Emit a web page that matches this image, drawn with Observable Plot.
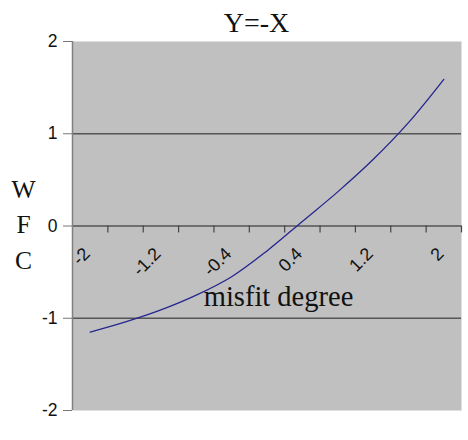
<!DOCTYPE html>
<html>
<head>
<meta charset="utf-8">
<script src="https://cdn.jsdelivr.net/npm/d3@7"></script>
<script src="https://cdn.jsdelivr.net/npm/@observablehq/plot@0.6"></script>
<style>
  html, body { margin: 0; padding: 0; background: #fff; }
  #chart svg { display: block; }
</style>
</head>
<body>
<div id="chart"></div>
<script>
// Category values of the misfit degree (x) and the WFC values (y)
const xCats = [-2, -1.6, -1.2, -0.8, -0.4, 0, 0.4, 0.8, 1.2, 1.6, 2];
const wfc   = [-1.15, -1.04, -0.91, -0.75, -0.55, -0.27, 0.05, 0.37, 0.72, 1.12, 1.59];
const xTickLabels = [-2, -1.2, -0.4, 0.4, 1.2, 2];
const yTicks = [-2, -1, 0, 1, 2];
const gridValues = [-1, 0, 1];
const title = "Y=-X";
const xLabel = "misfit degree";
const yLabel = "W\nF\nC";

const data = xCats.map((x, i) => ({x, y: wfc[i]}));
const step = xCats[1] - xCats[0];
const boundaries = xCats.map(d => d - step / 2).concat([xCats[xCats.length - 1] + step / 2]);

const serif = "'Liberation Serif', 'Times New Roman', serif";
const sans = "'Liberation Sans', Arial, sans-serif";

const chart = Plot.plot({
  width: 468,
  height: 440,
  marginLeft: 72,
  marginRight: 7,
  marginTop: 41,
  marginBottom: 30,
  x: {domain: [boundaries[0], boundaries[boundaries.length - 1]], axis: null},
  y: {domain: [-2, 2], axis: null},
  style: {fontFamily: sans, background: "#fff"},
  marks: [
    Plot.frame({fill: "#c0c0c0", stroke: null}),
    Plot.ruleY(gridValues, {stroke: "#555", strokeWidth: 1.6}),
    Plot.ruleX([boundaries[0]], {stroke: "#808080", strokeWidth: 1.5}),
    Plot.ruleX(boundaries.slice(1), {y1: 0, y2: -0.075, stroke: "#444", strokeWidth: 1.2}),
    Plot.axisY({ticks: yTicks, tickSize: 9, tickPadding: 6, fontSize: 17.5, stroke: "#777", fill: "#111", label: null, tickFormat: d => String(d).replace("−", "-")}),
    Plot.text(xTickLabels, {x: d => d, y: 0, text: d => String(d), rotate: -45, textAnchor: "end", lineAnchor: "bottom", dx: 1, dy: 29, fontSize: 18, fontFamily: sans, fill: "#111"}),
    Plot.line(data, {x: "x", y: "y", stroke: "#25258f", strokeWidth: 1.3, curve: "catmull-rom"}),
    Plot.text([xLabel], {x: 0.13, y: -0.77, text: d => d, fontSize: 28.5, fontFamily: serif, fill: "#111"}),
    Plot.text([title], {frameAnchor: "top", lineAnchor: "middle", dy: -18, dx: -10.5, text: d => d, fontSize: 28, fontFamily: serif, fill: "#111"}),
    Plot.text([yLabel], {frameAnchor: "left", lineAnchor: "middle", dx: -49, dy: -4, text: d => d, fontSize: 25.5, lineHeight: 1.4, textAnchor: "middle", fontFamily: serif, fill: "#111"})
  ]
});
document.getElementById("chart").append(chart);
</script>
</body>
</html>
